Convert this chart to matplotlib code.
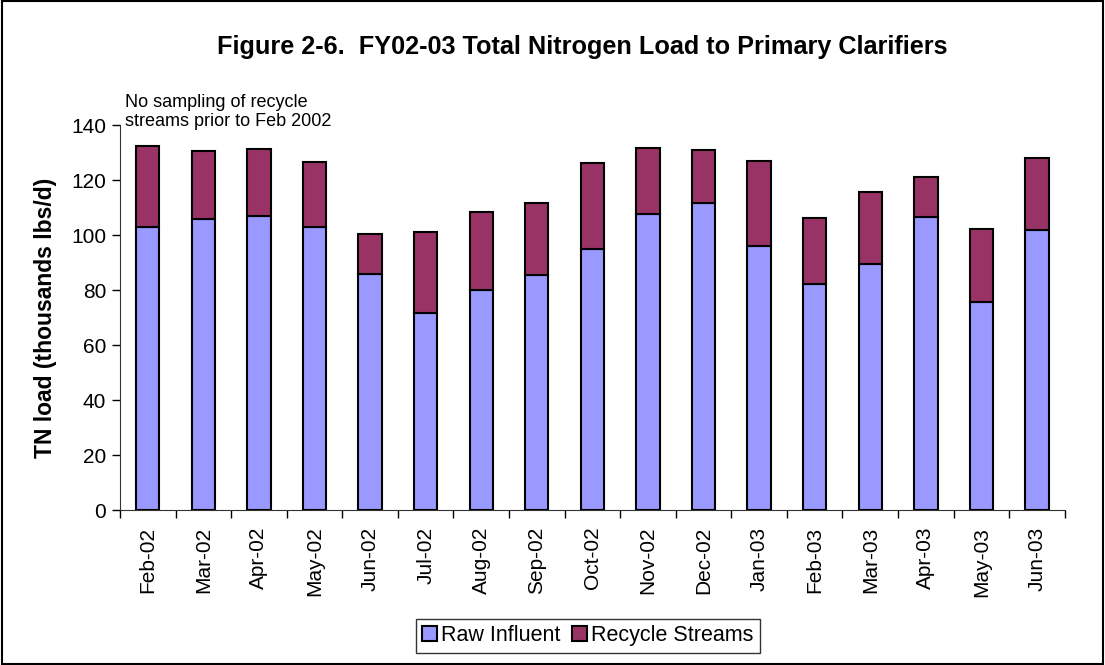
import numpy as np
import matplotlib.pyplot as plt
from matplotlib.patches import Rectangle

months = ["Feb-02", "Mar-02", "Apr-02", "May-02", "Jun-02", "Jul-02", "Aug-02",
          "Sep-02", "Oct-02", "Nov-02", "Dec-02", "Jan-03", "Feb-03", "Mar-03",
          "Apr-03", "May-03", "Jun-03"]
raw_influent = [103, 106, 106.8, 103, 85.8, 71.6, 80, 85.3, 94.8, 107.5, 111.6,
                96, 82.2, 89.5, 106.4, 75.5, 101.8]
total_load = [132.3, 130.6, 131.2, 126.7, 100.2, 101.1, 108.4, 111.8, 126.1,
              131.7, 130.8, 126.9, 106.2, 115.7, 121.2, 102.2, 128.1]
recycle_streams = [t - r for t, r in zip(total_load, raw_influent)]

FONT = "Liberation Sans"

fig = plt.figure(figsize=(11.05, 6.65), dpi=100)
ax = fig.add_axes([0.1086, 0.233, 0.855, 0.579])

x = np.arange(len(months))
ax.bar(x, raw_influent, width=0.42, color="#9999FF", edgecolor="black",
       linewidth=1.5, label="Raw Influent")
ax.bar(x, recycle_streams, bottom=raw_influent, width=0.42, color="#993366",
       edgecolor="black", linewidth=1.5, label="Recycle Streams")

ax.set_xlim(-0.5, len(months) - 0.5)
ax.set_ylim(0, 140)
ax.set_yticks(range(0, 141, 20))
ax.set_xticks(x)
ax.set_xticklabels(months, rotation=90, fontsize=15, family=FONT)
ax.set_xticks(np.arange(-0.5, len(months)), minor=True)
ax.tick_params(axis="x", which="major", length=0, pad=12)
ax.tick_params(axis="x", which="minor", length=6, direction="out", width=1)
ax.tick_params(axis="y", length=6, direction="out", labelsize=15, width=1, pad=4)
for lab in ax.get_yticklabels():
    lab.set_family(FONT)

for side in ("top", "right"):
    ax.spines[side].set_visible(False)
for side in ("left", "bottom"):
    ax.spines[side].set_color("#333333")

ax.set_ylabel("TN load (thousands lbs/d)", fontsize=16.5, fontweight="bold",
              family=FONT, labelpad=10)

fig.text(0.527, 0.93, "Figure 2-6.  FY02-03 Total Nitrogen Load to Primary Clarifiers",
         ha="center", va="center", fontsize=18.2, fontweight="bold", family=FONT)
fig.text(0.113, 0.805, "No sampling of recycle\nstreams prior to Feb 2002",
         ha="left", va="bottom", fontsize=13, family=FONT, linespacing=1.1)

leg = ax.legend(loc="upper center", bbox_to_anchor=(0.495, -0.283), ncol=2,
                frameon=True, fancybox=False, edgecolor="black",
                prop={"family": FONT, "size": 15.5},
                handlelength=0.7, handleheight=0.7, handletextpad=0.2,
                columnspacing=0.5, borderpad=0.3, borderaxespad=0)
leg.get_frame().set_linewidth(1)

fig.patches.append(Rectangle((0.002, 0.002), 0.996, 0.996, transform=fig.transFigure,
                             fill=False, edgecolor="black", linewidth=1.5))

fig.savefig("out.png", dpi=100)
